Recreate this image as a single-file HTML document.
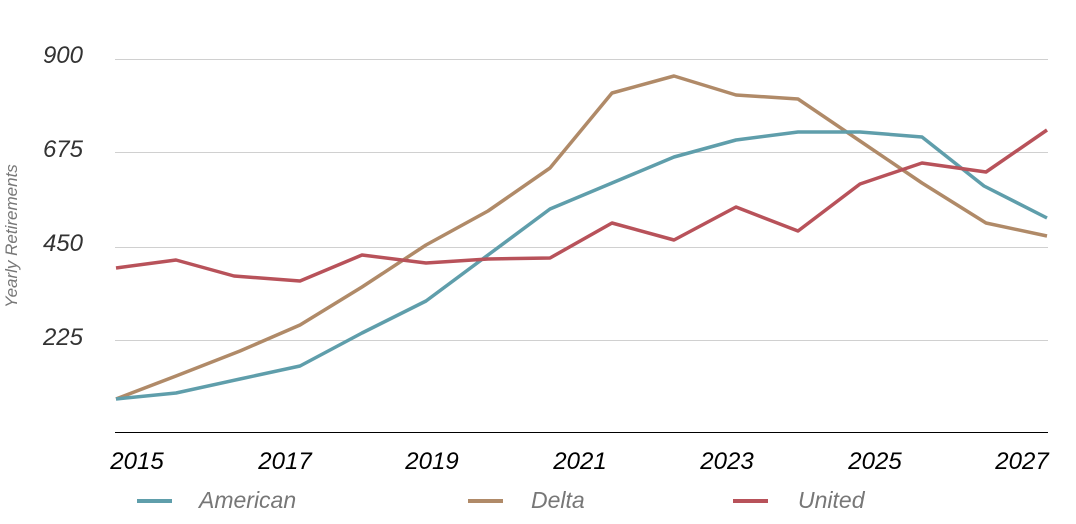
<!DOCTYPE html>
<html><head><style>body{margin:0;background:#fff}svg{display:block}</style></head><body>
<svg width="1076" height="524" xmlns="http://www.w3.org/2000/svg" font-family="Liberation Sans, sans-serif" font-style="italic">
<g stroke="#d0d0d0" stroke-width="1">
<line x1="115" y1="59.5" x2="1048" y2="59.5"/>
<line x1="115" y1="152.5" x2="1048" y2="152.5"/>
<line x1="115" y1="247.5" x2="1048" y2="247.5"/>
<line x1="115" y1="340.5" x2="1048" y2="340.5"/>
</g>
<line x1="115" y1="432.5" x2="1048" y2="432.5" stroke="#000" stroke-width="1"/>
<g font-size="24" fill="#333" text-anchor="end">
<text x="83" y="63">900</text>
<text x="83" y="157">675</text>
<text x="83" y="251">450</text>
<text x="83" y="345">225</text>
</g>
<text transform="translate(17,236) rotate(-90)" text-anchor="middle" font-size="17" fill="#777">Yearly Retirements</text>
<g font-size="24" fill="#000" text-anchor="middle">
<text x="137" y="469">2015</text>
<text x="285" y="469">2017</text>
<text x="432" y="469">2019</text>
<text x="580" y="469">2021</text>
<text x="727" y="469">2023</text>
<text x="875" y="469">2025</text>
<text x="1022" y="469">2027</text>
</g>
<g fill="none" stroke-width="3.5" stroke-linejoin="round">
<polyline stroke="#b08a68" points="116,399 176,376 240,351 300,325 362,287 426,245 488,211 550,168 612,93 674,76 736,95 798,99 860,141 922,183 986,223 1047,236"/>
<polyline stroke="#5f9eab" points="116,399 176,393 240,379 300,366 362,333 426,301 488,255 550,209 612,183 674,157 736,140 798,132 860,132 922,137 984,186 1047,218"/>
<polyline stroke="#b8525a" points="116,268 176,260 234,276 300,281 362,255 426,263 488,259 550,258 612,223 674,240 736,207 798,231 860,184 922,163 986,172 1047,130"/>
</g>
<g stroke-width="4">
<line x1="137" y1="501" x2="172" y2="501" stroke="#5f9eab"/>
<line x1="468" y1="501" x2="503" y2="501" stroke="#b08a68"/>
<line x1="733" y1="501" x2="768" y2="501" stroke="#b8525a"/>
</g>
<g font-size="23" fill="#777">
<text x="199" y="508">American</text>
<text x="531" y="508">Delta</text>
<text x="798" y="508">United</text>
</g>
</svg>
</body></html>
